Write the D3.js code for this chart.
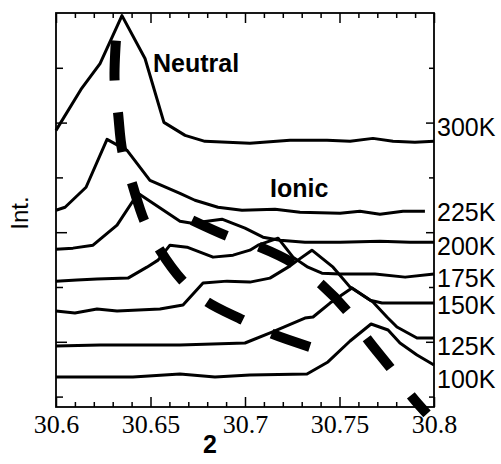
<!DOCTYPE html>
<html>
<head>
<meta charset="utf-8">
<script src="https://cdn.jsdelivr.net/npm/d3@7"></script>
<style>
  body { margin: 0; background: #fff; }
  svg { display: block; }
</style>
</head>
<body>
<svg id="vis"></svg>
<script>
// tick values
const xMajorTicks = [30.6, 30.65, 30.7, 30.75, 30.8];
const xMinorTicks = [30.61, 30.62, 30.63, 30.64, 30.66, 30.67, 30.68, 30.69,
                     30.71, 30.72, 30.73, 30.74, 30.76, 30.77, 30.78, 30.79];
const yMajorTicks = [1, 3, 5];
const yMinorTicks = [0, 2, 4, 6];

// spectra, 2theta (deg) and intensity (offset, arb. units)
const theta300 = [30.6, 30.6132, 30.6233, 30.6349, 30.6471, 30.6571, 30.6683, 30.6788, 30.7026, 30.7238, 30.7434, 30.7556, 30.7677, 30.7783, 30.7899, 30.8];
const int300   = [4.858, 5.605, 6.078, 6.952, 6.170, 5.004, 4.767, 4.658, 4.622, 4.676, 4.676, 4.658, 4.712, 4.658, 4.640, 4.658];

const theta225 = [30.6, 30.6048, 30.6159, 30.6270, 30.6376, 30.6497, 30.6656, 30.6735, 30.6857, 30.6984, 30.7159, 30.7291, 30.7503, 30.7608, 30.7714, 30.7836, 30.7952];
const int225   = [3.401, 3.455, 3.820, 4.694, 4.494, 3.947, 3.710, 3.583, 3.455, 3.401, 3.419, 3.364, 3.346, 3.383, 3.328, 3.383, 3.383];

const theta200 = [30.6, 30.609, 30.6196, 30.6323, 30.6434, 30.6656, 30.672, 30.6878, 30.7, 30.7095, 30.7185, 30.7317, 30.7503, 30.7714, 30.7873, 30.8];
const int200   = [2.690, 2.709, 2.763, 3.128, 3.710, 3.201, 3.164, 3.237, 3.073, 2.909, 2.854, 2.818, 2.818, 2.836, 2.818, 2.818];

const theta175 = [30.6, 30.6111, 30.6217, 30.6381, 30.6481, 30.654, 30.6603, 30.6693, 30.6831, 30.6937, 30.7026, 30.7069, 30.7175, 30.7254, 30.7333, 30.7407, 30.7503, 30.7688, 30.7847, 30.8];
const int175   = [2.107, 2.126, 2.144, 2.162, 2.362, 2.490, 2.763, 2.727, 2.545, 2.581, 2.672, 2.763, 2.891, 2.545, 2.362, 2.253, 2.235, 2.235, 2.180, 2.235];

const theta150 = [30.6, 30.61, 30.6217, 30.6323, 30.655, 30.6672, 30.6778, 30.6905, 30.7026, 30.7132, 30.7228, 30.728, 30.7354, 30.7466, 30.7556, 30.7661, 30.7725, 30.7847, 30.8];
const int150   = [1.561, 1.525, 1.597, 1.561, 1.597, 1.670, 2.071, 2.107, 2.089, 2.162, 2.362, 2.490, 2.672, 2.362, 1.998, 1.761, 1.707, 1.707, 1.707];

const theta125 = [30.6, 30.6233, 30.6656, 30.7, 30.7143, 30.7317, 30.736, 30.745, 30.7566, 30.7677, 30.7751, 30.7804, 30.791, 30.8];
const int125   = [0.923, 0.942, 0.942, 0.978, 1.178, 1.434, 1.452, 1.707, 1.980, 1.725, 1.452, 1.270, 1.069, 1.069];

const theta100 = [30.6, 30.6407, 30.6656, 30.6841, 30.7026, 30.7328, 30.7439, 30.7556, 30.7667, 30.7757, 30.782, 30.791, 30.8];
const int100   = [0.359, 0.359, 0.413, 0.359, 0.395, 0.413, 0.632, 1.014, 1.324, 1.215, 0.978, 0.759, 0.577];

const temperatures = ['300K', '225K', '200K', '175K', '150K', '125K', '100K'];
const labelLevels  = [4.92, 3.37, 2.75, 2.17, 1.68, 0.92, 0.33];

// peak position guides
const neutralTheta = [30.6317, 30.631, 30.6328, 30.6352, 30.6402, 30.6466, 30.655, 30.6667, 30.6794, 30.6989, 30.7132, 30.7344];
const neutralInt   = [6.497, 5.769, 5.186, 4.457, 3.893, 3.219, 2.672, 2.126, 1.743, 1.397, 1.160, 0.905];
const ionicTheta   = [30.672, 30.6921, 30.7079, 30.7254, 30.7407, 30.7545, 30.7651, 30.7778, 30.7884, 30.7963];
const ionicInt     = [3.219, 2.909, 2.727, 2.435, 2.035, 1.543, 1.033, 0.486, -0.005, -0.315];

var width = 501, height = 464;
var plotLeft = 56, plotRight = 434, plotTop = 13, plotBottom = 407;

var svg = d3.select('#vis').attr('width', width).attr('height', height);

var x = d3.scaleLinear().domain([30.6, 30.8]).range([plotLeft, plotRight]);
var y = d3.scaleLinear().domain([-0.19, 7]).range([plotBottom, plotTop]);

function addAxis(axis, tx, ty) {
    var g = svg.append('g').attr('transform', 'translate(' + tx + ',' + ty + ')').call(axis);
    g.select('.domain').remove();
    g.selectAll('line').attr('stroke', '#000').attr('stroke-width', 1.5);
    return g;
}

// ticks, all pointing inwards
var bottomAxis = addAxis(d3.axisBottom(x).tickValues(xMajorTicks).tickSize(-10).tickPadding(8)
    .tickFormat(d3.format('')), 0, plotBottom);
bottomAxis.selectAll('text')
    .attr('font-family', 'Liberation Serif, Times New Roman, serif')
    .attr('font-size', 26).attr('fill', '#000');
addAxis(d3.axisBottom(x).tickValues(xMinorTicks).tickSize(-5).tickFormat(''), 0, plotBottom);
addAxis(d3.axisTop(x).tickValues(xMajorTicks).tickSize(-10).tickFormat(''), 0, plotTop);
addAxis(d3.axisTop(x).tickValues(xMinorTicks).tickSize(-5).tickFormat(''), 0, plotTop);
addAxis(d3.axisLeft(y).tickValues(yMajorTicks).tickSize(-11).tickFormat(''), plotLeft, 0);
addAxis(d3.axisLeft(y).tickValues(yMinorTicks).tickSize(-7).tickFormat(''), plotLeft, 0);
addAxis(d3.axisRight(y).tickValues(yMajorTicks).tickSize(-8).tickFormat(''), plotRight, 0);
addAxis(d3.axisRight(y).tickValues(yMinorTicks).tickSize(-5).tickFormat(''), plotRight, 0);

svg.append('rect')
    .attr('x', plotLeft).attr('y', plotTop)
    .attr('width', plotRight - plotLeft).attr('height', plotBottom - plotTop)
    .attr('fill', 'none').attr('stroke', '#000').attr('stroke-width', 1.8);

// spectra
var spectra = [
    [theta300, int300], [theta225, int225], [theta200, int200], [theta175, int175],
    [theta150, int150], [theta125, int125], [theta100, int100]
];
var line = d3.line().x(function(d) { return x(d[0]); }).y(function(d) { return y(d[1]); });

svg.append('g').selectAll('path').data(spectra).enter().append('path')
    .attr('d', function(d) { return line(d3.zip(d[0], d[1])); })
    .attr('fill', 'none').attr('stroke', '#000').attr('stroke-width', 3)
    .attr('stroke-linejoin', 'round');

// dashed guides
var guide = d3.line().curve(d3.curveCatmullRom)
    .x(function(d) { return x(d[0]); }).y(function(d) { return y(d[1]); });

svg.append('path').attr('d', guide(d3.zip(neutralTheta, neutralInt)))
    .attr('fill', 'none').attr('stroke', '#000').attr('stroke-width', 10)
    .attr('stroke-dasharray', '40,32');
svg.append('path').attr('d', guide(d3.zip(ionicTheta, ionicInt)))
    .attr('fill', 'none').attr('stroke', '#000').attr('stroke-width', 10)
    .attr('stroke-dasharray', '38,34');

// temperature labels
svg.append('g').selectAll('text').data(temperatures).enter().append('text')
    .attr('x', plotRight + 3)
    .attr('y', function(d, i) { return y(labelLevels[i]); })
    .attr('dy', '0.36em')
    .attr('font-family', 'Liberation Sans, Arial, sans-serif')
    .attr('font-size', 25)
    .text(function(d) { return d; });

// annotations
svg.append('text').attr('x', 153).attr('y', 72)
    .attr('font-family', 'Liberation Sans, Arial, sans-serif')
    .attr('font-size', 25).attr('font-weight', 'bold').text('Neutral');
svg.append('text').attr('x', 270).attr('y', 197)
    .attr('font-family', 'Liberation Sans, Arial, sans-serif')
    .attr('font-size', 25).attr('font-weight', 'bold').text('Ionic');

// axis titles
svg.append('text').attr('x', 210).attr('y', 453).attr('text-anchor', 'middle')
    .attr('font-family', 'Liberation Sans, Arial, sans-serif')
    .attr('font-size', 25).attr('font-weight', 'bold').text('2');
svg.append('text')
    .attr('transform', 'translate(28,213) rotate(-90)').attr('text-anchor', 'middle')
    .attr('font-family', 'Liberation Sans, Arial, sans-serif')
    .attr('font-size', 24).text('Int.');
</script>
</body>
</html>
